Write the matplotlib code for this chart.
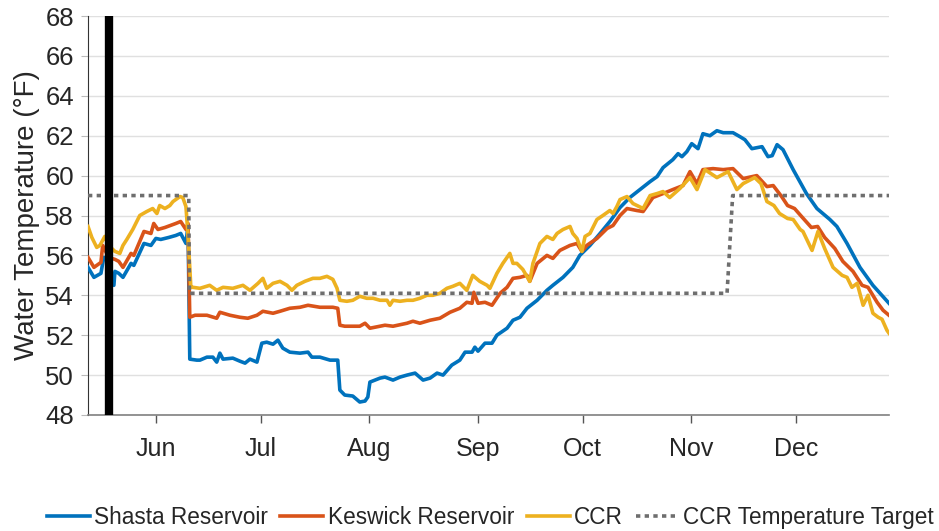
import matplotlib
matplotlib.use("Agg")
import matplotlib.pyplot as plt

# x values: days relative to 1 June
shasta_day = [-19.4, -17.7, -15.7, -14.9, -13.5, -12.0, -11.7, -10.6, -9.4, -7.1, -6.3, -3.4, -1.4, 0.0, 1.4,
              3.7, 5.7, 7.1, 8.6, 9.2, 9.7, 11.7, 12.6, 14.6, 16.3, 17.4, 18.3, 19.2, 22.0, 24.0, 25.5, 26.9,
              28.9, 30.3, 31.7, 33.5, 34.9, 36.3, 38.3, 41.2, 43.5, 44.6, 46.9, 49.8, 52.0, 52.6, 54.0, 56.3,
              58.3, 59.8, 60.6, 61.2, 64.1, 65.5, 67.8, 69.8, 71.8, 74.1, 76.4, 78.4, 80.4, 82.1, 84.6, 86.9,
              88.4, 90.4, 91.2, 92.1, 94.1, 96.1, 97.5, 100.4, 102.1, 104.1, 106.1, 109.0, 111.8, 113.5, 116.4,
              119.2, 121.2, 124.1, 127.0, 129.8, 132.7, 135.5, 138.4, 141.3, 143.3, 145.0, 147.8, 149.3, 150.4,
              151.8, 153.2, 155.0, 156.4, 158.4, 160.4, 162.2, 165.0, 167.0, 168.4, 170.4, 173.3, 175.0, 176.2,
              177.6, 179.3, 182.2, 186.0, 189.0, 192.7, 194.7, 197.6, 201.3, 205.0, 209.6]
shasta_val = [55.4, 54.9, 55.1, 55.9, 55.8, 54.5, 55.2, 55.1, 54.9, 55.6, 55.5, 56.6, 56.5, 56.85, 56.8,
              56.9, 57.0, 57.1, 56.6, 57.5, 50.8, 50.75, 50.75, 50.9, 50.9, 50.65, 51.1, 50.8, 50.85, 50.7, 50.6, 50.8,
              50.65, 51.6, 51.65, 51.55, 51.75, 51.35, 51.15, 51.1, 51.15, 50.9, 50.9, 50.75, 50.75, 49.25, 49.0, 48.95,
              48.65, 48.7, 48.9, 49.65, 49.85, 49.9, 49.75, 49.9, 50.0, 50.1, 49.75, 49.85, 50.1, 50.0, 50.5, 50.75,
              51.15, 51.15, 51.4, 51.2, 51.6, 51.6, 52.0, 52.35, 52.75, 52.9, 53.35, 53.75, 54.25, 54.5, 54.9,
              55.4, 56.0, 56.5, 57.1, 57.7, 58.4, 58.9, 59.3, 59.7, 59.95, 60.4, 60.8, 61.1, 60.95,
              61.2, 61.6, 61.35, 62.1, 62.0, 62.25, 62.15, 62.15, 61.95, 61.8, 61.35, 61.45, 60.95, 61.0,
              61.55, 61.3, 60.3, 59.1, 58.35, 57.8, 57.45, 56.6, 55.4, 54.5, 53.6]

keswick_day = [-19.4, -17.7, -15.7, -15.2, -13.5, -11.7, -10.6, -9.4, -7.1, -6.3, -4.6, -3.4, -1.4, -0.6, 0.6,
               2.6, 5.7, 7.1, 8.6, 9.2, 9.7, 11.2, 14.6, 17.4, 18.3, 21.2, 24.0, 26.3, 28.9, 30.6, 33.5, 35.5,
               38.3, 41.2, 43.5, 46.9, 50.6, 52.0, 52.6, 54.0, 58.3, 59.8, 61.2, 65.5, 67.8, 71.8, 73.5, 75.5,
               78.4, 81.2, 84.1, 86.9, 88.9, 90.4, 90.9, 92.1, 94.1, 96.1, 98.4, 100.4, 102.1, 104.1, 106.1,
               106.9, 109.0, 111.8, 113.5, 115.5, 118.4, 120.4, 121.8, 123.2, 126.1, 129.0, 130.7, 132.7, 134.7,
               137.5, 139.3, 142.1, 145.0, 147.8, 150.7, 152.7, 154.7, 156.4, 159.3, 162.2, 165.0, 167.9, 171.8,
               174.7, 176.5, 178.9, 180.6, 182.6, 184.6, 187.4, 189.2, 191.2, 194.1, 196.4, 199.3, 201.9, 203.6,
               206.2, 207.9, 209.6]
keswick_val = [55.9, 55.4, 55.65, 56.5, 55.9, 55.8, 55.7, 55.4, 56.1, 56.0, 56.7, 57.2, 57.1, 57.6, 57.3,
               57.4, 57.6, 57.7, 57.3, 57.6, 52.9, 53.0, 53.0, 52.85, 53.15, 53.0, 52.9, 52.85, 53.0, 53.2, 53.1, 53.2,
               53.35, 53.4, 53.5, 53.4, 53.4, 53.35, 52.5, 52.45, 52.45, 52.6, 52.35, 52.5, 52.45, 52.6, 52.7, 52.6,
               52.75, 52.85, 53.15, 53.35, 53.65, 53.6, 54.15, 53.6, 53.65, 53.5, 54.1, 54.4, 54.85, 54.9, 55.0,
               54.7, 55.6, 56.0, 55.85, 56.25, 56.5, 56.6, 56.2, 56.5, 56.85, 57.35, 57.5, 58.0, 58.35,
               58.25, 58.2, 58.9, 59.1, 59.3, 59.5, 60.2, 59.6, 60.3, 60.35, 60.3, 60.35, 59.85, 60.0,
               59.45, 59.5, 58.95, 58.5, 58.35, 57.95, 57.4, 57.45, 56.9, 56.35, 55.7, 55.2, 54.5, 54.4,
               53.65, 53.25, 53.0]

ccr_day = [-19.4, -18.3, -16.9, -16.0, -14.6, -13.5, -11.7, -10.3, -9.4, -8.3, -6.6, -4.6, -2.6, -0.9, 0.3,
           1.1, 2.6, 4.0, 4.9, 6.9, 7.7, 8.6, 9.2, 10.0, 10.6, 12.6, 15.4, 17.4, 19.2, 22.0, 24.9, 26.9, 29.2,
           30.6, 31.7, 33.5, 35.5, 37.5, 38.9, 40.3, 42.6, 44.9, 46.9, 48.9, 50.6, 51.8, 52.6, 54.6, 56.3, 58.3,
           60.3, 62.1, 64.1, 66.1, 66.9, 67.8, 69.8, 71.8, 73.5, 75.5, 77.5, 79.2, 81.2, 83.2, 84.9, 86.9, 88.9,
           90.6, 92.6, 94.7, 95.5, 97.5, 99.2, 101.2, 102.1, 103.2, 104.9, 106.9, 107.8, 109.8, 111.8, 113.5,
           114.7, 116.4, 118.4, 119.2, 120.4, 121.8, 122.7, 124.1, 126.1, 127.8, 129.8, 130.7, 131.8, 132.7,
           134.7, 136.4, 139.3, 141.3, 143.3, 145.0, 146.9, 149.8, 152.7, 154.7, 157.0, 160.4, 163.6, 166.1,
           167.9, 171.2, 173.0, 174.7, 176.7, 178.3, 180.6, 182.2, 184.2, 185.0, 187.6, 189.3, 191.2, 193.6,
           196.2, 197.6, 199.0, 200.5, 202.2, 203.6, 205.0, 206.5, 207.6, 209.0, 209.6]
ccr_val = [57.45, 56.9, 56.4, 56.5, 56.95, 56.5, 56.2, 56.1, 56.5, 56.8, 57.3, 58.0, 58.2, 58.35, 58.1,
           58.5, 58.35, 58.5, 58.7, 58.95, 58.9, 58.45, 57.0, 54.4, 54.4, 54.35, 54.5, 54.25, 54.4, 54.35, 54.5, 54.25, 54.6,
           54.85, 54.35, 54.6, 54.7, 54.5, 54.25, 54.5, 54.7, 54.85, 54.85, 54.95, 54.8, 54.35, 53.75, 53.7, 53.75, 53.95,
           53.85, 53.85, 53.75, 53.75, 53.5, 53.75, 53.7, 53.75, 53.75, 53.85, 54.0, 54.0, 54.1, 54.35, 54.45, 54.6, 54.25,
           55.0, 54.7, 54.5, 54.35, 55.1, 55.6, 56.1, 55.6, 55.6, 55.3, 54.7, 55.6, 56.6, 56.95, 56.8,
           57.1, 57.3, 57.45, 57.1, 56.85, 56.2, 56.95, 57.1, 57.8, 58.0, 58.25, 58.1, 58.45, 58.8,
           58.95, 58.6, 58.35, 59.0, 59.1, 59.2, 58.9, 59.35, 59.9, 59.3, 60.3, 59.9, 60.2, 59.3,
           59.6, 59.9, 59.6, 58.7, 58.5, 58.1, 57.85, 57.8, 57.3, 57.2, 56.25, 57.2, 56.35, 55.4,
           55.0, 54.9, 54.4, 54.6, 53.5, 54.0, 53.1, 52.9, 52.8, 52.25, 52.1]

target_day = [-19.4, 9.4, 9.6, 163.3, 164.9, 209.6]
target_val = [59.0, 59.0, 54.1, 54.1, 59.0, 59.0]

marker_day = -13.3

month_ticks = [0, 30, 61, 92, 122, 153, 183]
month_labels = ["Jun", "Jul", "Aug", "Sep", "Oct", "Nov", "Dec"]
y_ticks = list(range(48, 69, 2))

plt.rcParams['font.family'] = ['Liberation Sans', 'DejaVu Sans']
TXT = '#262626'

fig = plt.figure(figsize=(9.39, 5.31), dpi=100)
ax = fig.add_axes([88/939, 1-415/531, (889-88)/939, (415-16)/531])

lw = 2.6
ax.plot(shasta_day, shasta_val, color='#0072BD', lw=lw, label='Shasta Reservoir', zorder=3)
ax.plot(keswick_day, keswick_val, color='#D95319', lw=lw, label='Keswick Reservoir', zorder=4)
ax.plot(ccr_day, ccr_val, color='#EDB120', lw=lw, label='CCR', zorder=5)
ax.plot(target_day, target_val, color='#6e6e6e', lw=lw, dashes=(1.2, 1.2),
        label='CCR Temperature Target', zorder=6)
ax.axvline(marker_day, color='black', lw=6, zorder=7)

ax.set_xlim(-19.4, 209.6)
ax.set_ylim(48, 68)
ax.set_yticks(y_ticks)
ax.set_xticks(month_ticks)
ax.set_xticklabels(month_labels)
ax.grid(axis='y', color='#e0e0e0', lw=1.0)
ax.set_axisbelow(True)
for s in ['top', 'right']:
    ax.spines[s].set_visible(False)
ax.spines['left'].set_color('#333333')
ax.spines['left'].set_linewidth(0.8)
ax.spines['bottom'].set_color('#808080')
ax.spines['bottom'].set_linewidth(1.2)
ax.tick_params(axis='y', length=5, width=0.8, color='#bbbbbb', labelsize=18.5, labelcolor=TXT, pad=5)
ax.tick_params(axis='x', length=6, width=1.0, color='#555555', labelsize=18, labelcolor=TXT, pad=10)
ax.set_ylabel('Water Temperature (°F)', fontsize=20, color=TXT, labelpad=4)

fig.legend(loc='lower center', bbox_to_anchor=(0.522, -0.035), ncol=4, frameon=False, fontsize=16.3,
           handlelength=1.9, handletextpad=0.2, columnspacing=0.55, labelcolor=TXT)

fig.savefig('out.png', dpi=100)
